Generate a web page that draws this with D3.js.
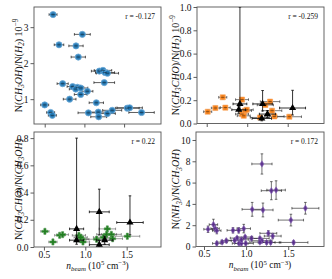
<!DOCTYPE html>
<html>
<head>
<meta charset="utf-8">
<script src="https://cdn.jsdelivr.net/npm/d3@7"></script>
<style>
  body { margin: 0; background: #fff; }
  svg { display: block; }
</style>
</head>
<body>
<div id="chart"></div>
<script>
// -------- Data --------
// top left: N(CH3OH)/N(H2) 10^-9
const ch3ohNbeam    = [0.605, 0.974, 0.68, 0.894, 0.923, 1.188, 1.234, 1.26, 1.29, 1.25, 0.726, 0.852, 0.911, 0.89, 0.953, 1.037, 0.953, 0.814, 1.15, 0.5, 0.575, 0.596, 1.05, 1.175, 1.18, 1.29, 1.35, 1.54, 1.57, 1.72];
const ch3ohRatio    = [3.35, 2.80, 2.51, 2.48, 2.17, 1.78, 1.80, 1.74, 1.72, 1.46, 1.43, 1.35, 1.33, 1.28, 1.31, 1.22, 1.13, 1.00, 0.90, 0.84, 0.63, 0.55, 0.62, 0.64, 0.51, 0.60, 0.69, 0.75, 0.76, 0.63];
const ch3ohNbeamErr = [0.05, 0.10, 0.06, 0.09, 0.09, 0.10, 0.11, 0.12, 0.14, 0.13, 0.07, 0.07, 0.08, 0.08, 0.09, 0.07, 0.08, 0.08, 0.09, 0.05, 0.05, 0.05, 0.13, 0.12, 0.10, 0.10, 0.12, 0.15, 0.16, 0.16];
const ch3ohRatioErr = [0.03, 0.03, 0.03, 0.03, 0.03, 0.03, 0.03, 0.03, 0.03, 0.03, 0.03, 0.03, 0.03, 0.03, 0.03, 0.03, 0.03, 0.03, 0.03, 0.03, 0.03, 0.03, 0.03, 0.03, 0.03, 0.03, 0.03, 0.03, 0.03, 0.03];

// top right: N(CH3CHO)/N(H2) 10^-9, detections
const achoH2Nbeam    = [0.512, 0.607, 0.698, 0.73, 0.936, 0.936, 0.973, 0.957, 1.158, 1.224, 1.282, 1.307, 1.335, 1.52, 0.994];
const achoH2Ratio    = [0.101, 0.133, 0.225, 0.136, 0.205, 0.081, 0.11, 0.066, 0.052, 0.159, 0.188, 0.11, 0.061, 0.058, 0.118];
const achoH2NbeamErr = [0.05, 0.05, 0.05, 0.06, 0.08, 0.08, 0.08, 0.08, 0.12, 0.10, 0.12, 0.12, 0.12, 0.15, 0.08];
const achoH2RatioErr = [0.015, 0.015, 0.015, 0.015, 0.015, 0.015, 0.015, 0.015, 0.015, 0.015, 0.015, 0.015, 0.015, 0.015, 0.015];
// top right, black triangles
const achoH2TriNbeam    = [0.91, 0.895, 1.19, 1.18, 1.25, 1.56];
const achoH2TriRatio    = [0.168, 0.118, 0.168, 0.043, 0.081, 0.133];
const achoH2TriNbeamErr = [0.085, 0.085, 0.12, 0.12, 0.10, 0.16];
const achoH2TriErrLow   = [0.06, 0.03, 0.06, 0.02, 0.03, 0.06];
const achoH2TriErrHigh  = [0.832, 0.03, 0.115, 0.02, 0.03, 0.152];

// bottom left: N(CH3CHO)/N(CH3OH), detections
const achoMeNbeam    = [0.512, 0.609, 0.69, 0.726, 0.923, 0.964, 0.972, 0.944, 1.137, 1.266, 1.258, 1.315, 1.33, 1.508, 1.218];
const achoMeRatio    = [0.115, 0.037, 0.086, 0.091, 0.086, 0.057, 0.037, 0.071, 0.057, 0.133, 0.093, 0.093, 0.061, 0.079, 0.071];
const achoMeNbeamErr = [0.05, 0.05, 0.06, 0.07, 0.08, 0.08, 0.08, 0.08, 0.12, 0.10, 0.12, 0.12, 0.12, 0.15, 0.12];
const achoMeRatioErr = [0.015, 0.015, 0.015, 0.015, 0.015, 0.015, 0.015, 0.015, 0.015, 0.015, 0.015, 0.015, 0.015, 0.015, 0.015];
// bottom left, black triangles
const achoMeTriNbeam    = [0.895, 1.169, 1.54, 0.895, 1.169, 1.234];
const achoMeTriRatio    = [0.133, 0.258, 0.18, 0.05, 0.017, 0.05];
const achoMeTriNbeamErr = [0.085, 0.12, 0.16, 0.085, 0.12, 0.10];
const achoMeTriErrLow   = [0.08, 0.17, 0.09, 0.03, 0.01, 0.03];
const achoMeTriErrHigh  = [0.667, 0.167, 0.196, 0.03, 0.03, 0.03];

// bottom right: N(NH3)/N(CH3OH)
const nh3Nbeam    = [1.188, 1.30, 1.356, 1.072, 1.2, 1.704, 1.532, 0.612, 0.548, 0.632, 0.652, 0.844, 0.912, 0.972, 1.264, 1.316, 0.892, 0.988, 1.064, 1.164, 1.188, 1.244, 1.292, 1.564, 0.652, 0.716, 0.764, 0.916, 0.944, 0.996, 0.864, 1.164, 0.944];
const nh3Ratio    = [7.75, 5.24, 5.30, 3.49, 3.43, 3.59, 2.48, 2.06, 1.62, 1.68, 1.49, 1.52, 1.52, 1.68, 1.24, 0.98, 0.79, 0.89, 0.76, 0.76, 0.54, 0.38, 0.38, 0.38, 0.29, 0.41, 0.54, 0.29, 0.29, 0.29, 0.57, 0.41, 0.63];
const nh3NbeamErr = [0.12, 0.12, 0.11, 0.12, 0.12, 0.16, 0.15, 0.05, 0.05, 0.05, 0.05, 0.07, 0.07, 0.08, 0.10, 0.10, 0.08, 0.09, 0.10, 0.11, 0.12, 0.10, 0.12, 0.17, 0.05, 0.06, 0.06, 0.08, 0.08, 0.09, 0.08, 0.12, 0.09];
const nh3RatioErr = [0.95, 0.85, 0.87, 0.65, 0.65, 0.55, 0.55, 0.5, 0.3, 0.3, 0.3, 0.25, 0.25, 0.4, 0.25, 0.25, 0.15, 0.15, 0.15, 0.15, 0.15, 0.15, 0.15, 0.15, 0.15, 0.15, 0.15, 0.15, 0.15, 0.15, 0.15, 0.15, 0.15];

const xTicks = [0.5, 1.0, 1.5];
const correlations = ["r = -0.127", "r = -0.259", "r = 0.22", "r = 0.172"];

// -------- Setup --------
const FONT = "'Liberation Serif','DejaVu Serif',serif";
const width = 332, height = 279;

const svg = d3.select("#chart").append("svg")
  .attr("width", width)
  .attr("height", height)
  .style("font-family", FONT);

// label pieces: [text, kind]  kind: n = normal, i = italic, sub = italic subscript, sup = superscript
function richText(sel, parts, size) {
  let shift = 0;
  parts.forEach(([t, kind]) => {
    const span = sel.append("tspan").text(t);
    let target = 0;
    if (kind === "i") span.attr("font-style", "italic");
    if (kind === "sub") { span.attr("font-style", "italic").attr("font-size", size * 0.72); target = size * 0.28; }
    if (kind === "sup") { span.attr("font-size", size * 0.72); target = -size * 0.36; }
    span.attr("dy", target - shift);
    shift = target;
  });
}

function panel(cfg) {
  const g = svg.append("g");
  const x = d3.scaleLinear().domain(cfg.xDomain).range([cfg.left, cfg.right]);
  const y = d3.scaleLinear().domain(cfg.yDomain).range([cfg.bottom, cfg.top]);

  const clipId = "clip" + cfg.id;
  svg.append("clipPath").attr("id", clipId)
    .append("rect")
    .attr("x", cfg.left).attr("y", cfg.top)
    .attr("width", cfg.right - cfg.left).attr("height", cfg.bottom - cfg.top);

  // axes
  const yAx = g.append("g")
    .attr("transform", `translate(${cfg.left},0)`)
    .call(d3.axisLeft(y).tickValues(cfg.yTicks).tickSize(3.5).tickPadding(2).tickFormat(cfg.yFmt));
  const xAx = g.append("g")
    .attr("transform", `translate(0,${cfg.bottom})`)
    .call(d3.axisBottom(x).tickValues(xTicks).tickSize(3.5).tickPadding(0.5)
      .tickFormat(cfg.xLabels ? d3.format(".1f") : ""));
  [yAx, xAx].forEach(a => {
    a.select(".domain").remove();
    a.selectAll("line").attr("stroke", "#333").attr("stroke-width", 0.8);
    a.selectAll("text").attr("font-family", FONT).attr("font-size", 9.5).attr("fill", "#111");
  });

  // frame
  g.append("rect")
    .attr("x", cfg.left).attr("y", cfg.top)
    .attr("width", cfg.right - cfg.left).attr("height", cfg.bottom - cfg.top)
    .attr("fill", "none").attr("stroke", "#555").attr("stroke-width", 0.9);

  const plot = g.append("g").attr("clip-path", `url(#${clipId})`);

  cfg.series.forEach(s => {
    const n = s.x.length;
    const eb = plot.append("g")
      .attr("stroke", s.errColor).attr("stroke-width", s.errWidth)
      .attr("stroke-opacity", s.errOpacity).attr("fill", "none");
    for (let i = 0; i < n; i++) {
      const cx = x(s.x[i]), cy = y(s.y[i]);
      const xl = x(s.x[i] - s.xErr[i]), xr = x(s.x[i] + s.xErr[i]);
      const yb = y(s.y[i] - s.yLo[i]), yt = y(s.y[i] + s.yHi[i]);
      const cap = 1.3;
      eb.append("line").attr("x1", xl).attr("x2", xr).attr("y1", cy).attr("y2", cy);
      eb.append("line").attr("x1", xl).attr("x2", xl).attr("y1", cy - cap).attr("y2", cy + cap);
      eb.append("line").attr("x1", xr).attr("x2", xr).attr("y1", cy - cap).attr("y2", cy + cap);
      eb.append("line").attr("x1", cx).attr("x2", cx).attr("y1", yb).attr("y2", yt);
      eb.append("line").attr("x1", cx - cap).attr("x2", cx + cap).attr("y1", yb).attr("y2", yb);
      eb.append("line").attr("x1", cx - cap).attr("x2", cx + cap).attr("y1", yt).attr("y2", yt);
    }
    plot.append("g").selectAll("path")
      .data(d3.range(n))
      .join("path")
      .attr("transform", i => `translate(${x(s.x[i])},${y(s.y[i])})`)
      .attr("d", s.symbol)
      .attr("fill", s.fill)
      .attr("fill-opacity", s.fillOpacity)
      .attr("stroke", s.stroke)
      .attr("stroke-width", s.strokeWidth);
    // error bar crossing shows faintly through the marker
    if (s.overCross) {
      const ov = plot.append("g").attr("stroke", "#111").attr("stroke-width", 0.8).attr("stroke-opacity", 0.6);
      for (let i = 0; i < n; i++) {
        const cx = x(s.x[i]), cy = y(s.y[i]);
        ov.append("line").attr("x1", cx - 1.6).attr("x2", cx + 1.6).attr("y1", cy).attr("y2", cy);
      }
    }
  });

  // correlation label
  g.append("text")
    .attr("x", cfg.right - 6).attr("y", cfg.top + 12)
    .attr("text-anchor", "end")
    .attr("font-size", 7.5).attr("fill", "#111")
    .text(cfg.r);

  // y label
  const yl = g.append("text")
    .attr("transform", `translate(${cfg.yLabelX},${(cfg.top + cfg.bottom) / 2}) rotate(-90)`)
    .attr("text-anchor", "middle")
    .attr("font-size", 10).attr("fill", "#111");
  richText(yl, cfg.yLabel, 10);

  if (cfg.xLabels) {
    const xl = g.append("text")
      .attr("x", (cfg.left + cfg.right) / 2).attr("y", cfg.bottom + 21.5)
      .attr("text-anchor", "middle")
      .attr("font-size", 9.5).attr("fill", "#111");
    richText(xl, [["n", "i"], ["beam", "sub"], [" (10", "n"], ["5", "sup"], [" cm", "n"], ["\u22123", "sup"], [")", "n"]], 9.5);
  }
}

const circle = d3.symbol(d3.symbolCircle, 30)();
const square = d3.symbol(d3.symbolSquare, 26)();
const tri = d3.symbol(d3.symbolTriangle, 22)();
const plus = d3.symbol(d3.symbolCross, 22)();
const thinDiamond = "M0,-3.2L2,0L0,3.2L-2,0Z";

const triStyle = (xs, ys, xe, lo, hi) => ({
  x: xs, y: ys, xErr: xe, yLo: lo, yHi: hi,
  symbol: tri, fill: "#000", fillOpacity: 1, stroke: "none", strokeWidth: 0,
  errColor: "#111", errWidth: 1, errOpacity: 0.85
});

panel({
  id: 0, left: 34, right: 161, top: 7, bottom: 124,
  xDomain: [0.365, 1.965], yDomain: [0.31, 3.56],
  yTicks: [1, 2, 3], yFmt: d3.format("d"), xLabels: false,
  yLabelX: 21.5, r: correlations[0],
  yLabel: [["N(", "n"], ["CH", "i"], ["3", "sub"], ["OH", "i"], [")/N(", "n"], ["H", "i"], ["2", "sub"], [") 10", "n"], ["\u22129", "sup"]],
  series: [{
    x: ch3ohNbeam, y: ch3ohRatio, xErr: ch3ohNbeamErr, yLo: ch3ohRatioErr, yHi: ch3ohRatioErr,
    symbol: circle, fill: "#1f77b4", fillOpacity: 0.9, stroke: "#6aa8d8", strokeWidth: 0.8,
    errColor: "#111", errWidth: 0.8, errOpacity: 0.85, overCross: true
  }]
});

panel({
  id: 1, left: 197, right: 324, top: 7, bottom: 123.5,
  xDomain: [0.38, 1.948], yDomain: [0, 1.0],
  yTicks: [0, 0.2, 0.4, 0.6, 0.8, 1.0], yFmt: d3.format(".1f"), xLabels: false,
  yLabelX: 178.5, r: correlations[1],
  yLabel: [["N(", "n"], ["CH", "i"], ["3", "sub"], ["CHO", "i"], [")/N(", "n"], ["H", "i"], ["2", "sub"], [") 10", "n"], ["\u22129", "sup"]],
  series: [{
    x: achoH2Nbeam, y: achoH2Ratio, xErr: achoH2NbeamErr, yLo: achoH2RatioErr, yHi: achoH2RatioErr,
    symbol: square, fill: "#ff7f0e", fillOpacity: 0.9, stroke: "#f5a25d", strokeWidth: 0.6,
    errColor: "#222", errWidth: 0.8, errOpacity: 0.75, overCross: true
  }, triStyle(achoH2TriNbeam, achoH2TriRatio, achoH2TriNbeamErr, achoH2TriErrLow, achoH2TriErrHigh)]
});

panel({
  id: 2, left: 34, right: 161, top: 132, bottom: 247,
  xDomain: [0.38, 1.915], yDomain: [0, 0.845],
  yTicks: [0, 0.2, 0.4, 0.6, 0.8], yFmt: d3.format(".1f"), xLabels: true,
  yLabelX: 21.5, r: correlations[2],
  yLabel: [["N(", "n"], ["CH", "i"], ["3", "sub"], ["CHO", "i"], [")/N(", "n"], ["CH", "i"], ["3", "sub"], ["OH", "i"], [")", "n"]],
  series: [{
    x: achoMeNbeam, y: achoMeRatio, xErr: achoMeNbeamErr, yLo: achoMeRatioErr, yHi: achoMeRatioErr,
    symbol: plus, fill: "#1c7c1c", fillOpacity: 0.95, stroke: "#5aa05a", strokeWidth: 0.5,
    errColor: "#333", errWidth: 0.8, errOpacity: 0.6, overCross: false
  }, triStyle(achoMeTriNbeam, achoMeTriRatio, achoMeTriNbeamErr, achoMeTriErrLow, achoMeTriErrHigh)]
});

panel({
  id: 3, left: 196, right: 324, top: 132, bottom: 246.5,
  xDomain: [0.405, 1.925], yDomain: [0, 10.75],
  yTicks: [0, 2, 4, 6, 8, 10], yFmt: d3.format("d"), xLabels: true,
  yLabelX: 179, r: correlations[3],
  yLabel: [["N(", "n"], ["NH", "i"], ["3", "sub"], [")/N(", "n"], ["CH", "i"], ["3", "sub"], ["OH", "i"], [")", "n"]],
  series: [{
    x: nh3Nbeam, y: nh3Ratio, xErr: nh3NbeamErr, yLo: nh3RatioErr, yHi: nh3RatioErr,
    symbol: thinDiamond, fill: "#5b2d90", fillOpacity: 0.9, stroke: "#8a66b8", strokeWidth: 0.6,
    errColor: "#222", errWidth: 0.8, errOpacity: 0.8, overCross: false
  }]
});
</script>
</body>
</html>
